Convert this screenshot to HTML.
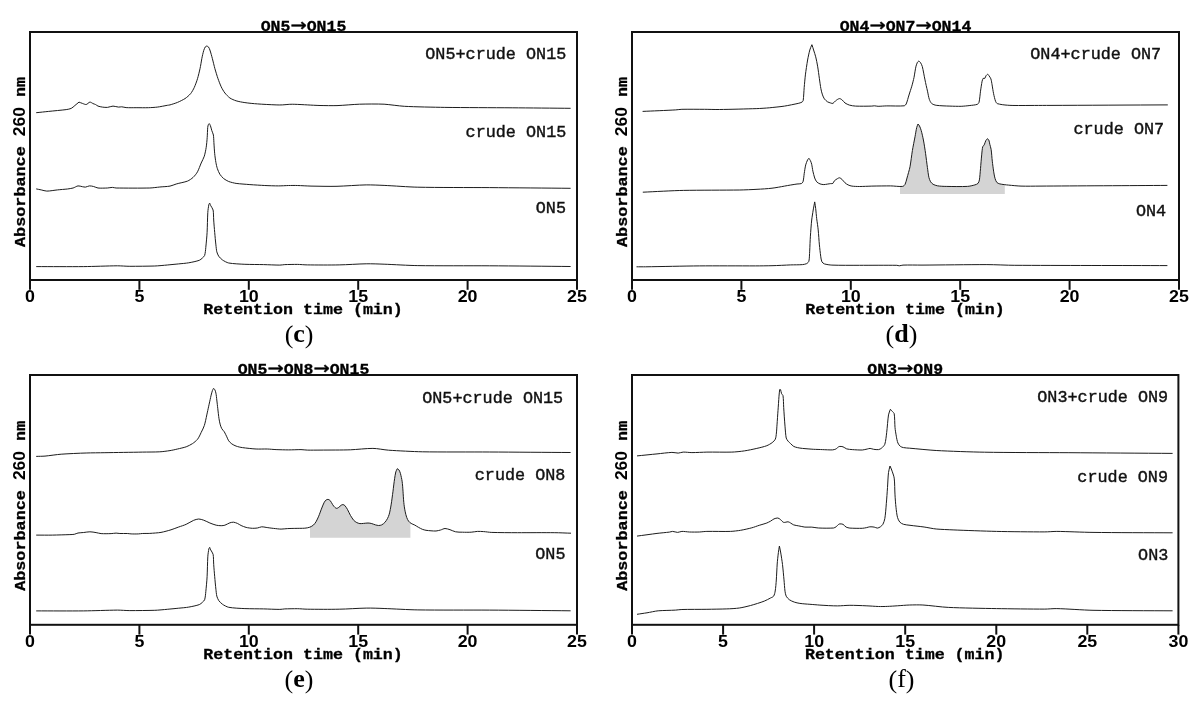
<!DOCTYPE html>
<html lang="en"><head><meta charset="utf-8"><title>Chromatograms</title>
<style>
html,body{margin:0;padding:0;background:#fff}
body{width:1202px;height:708px;overflow:hidden}
svg{display:block}
text{fill:#000}
.tk{font-family:"Liberation Sans","DejaVu Sans",sans-serif;font-weight:bold;font-size:16px}
.ax{font-family:"Liberation Mono","DejaVu Sans Mono",monospace;font-weight:bold;font-size:15px;stroke:#000;stroke-width:.3px}
.ti{font-family:"Liberation Mono","DejaVu Sans Mono",monospace;font-weight:bold;font-size:15px;stroke:#000;stroke-width:.3px}
.ar{font-family:"DejaVu Sans","Liberation Sans",sans-serif;font-weight:normal;font-size:17.7px;stroke-width:.4px}
.lb{font-family:"Liberation Mono","DejaVu Sans Mono",monospace;font-size:16.8px;fill:#111;stroke:#111;stroke-width:.4px}
.trace{fill:none;stroke:#1c1c1c;stroke-width:1px;stroke-linejoin:round}
.shade{fill:#d4d4d4}
.dg{font-family:"Liberation Sans","DejaVu Sans",sans-serif;font-weight:bold;font-size:15.6px;stroke:none}
.cap{font-family:"Liberation Serif","DejaVu Serif",serif;font-size:26px}
</style></head><body>
<svg width="1202" height="708" viewBox="0 0 1202 708">
<rect width="1202" height="708" fill="#fff"/>
<g id="panel-c">
<path class="trace" d="M36.2,112.7C39.5,112.4 45.4,111.7 48.7,111.4C53.4,110.9 61.5,110.2 66.2,109.6C67.6,109.4 70.0,109.0 71.2,108.4C72.3,107.9 73.9,106.3 74.9,105.5C76.0,104.6 77.9,103.0 79.0,102.1C79.9,102.4 81.5,103.1 82.4,103.4C83.4,103.7 85.2,104.7 86.2,104.5C87.4,104.3 88.7,102.3 89.9,102.1C90.8,102.0 92.2,103.2 93.0,103.6C93.7,103.9 94.9,104.2 95.5,104.5C96.2,104.9 97.3,105.8 98.0,106.1C99.1,106.5 101.2,106.9 102.4,107.1C103.7,107.3 106.1,107.5 107.4,107.4C108.9,107.3 111.5,106.1 113.0,106.1C114.5,106.1 117.1,107.0 118.6,107.1C119.4,107.2 120.9,106.7 121.7,106.8C122.9,106.9 124.9,107.5 126.1,107.6C128.8,107.8 133.4,107.7 136.1,107.7C139.4,107.7 145.3,107.8 148.6,107.7C150.9,107.6 155.0,107.4 157.3,107.1C160.0,106.8 164.6,105.8 167.3,105.3C168.0,105.2 169.3,105.1 170.0,104.9C172.0,104.3 175.6,103.2 177.5,102.4C179.6,101.5 183.1,99.8 185.0,98.6C186.7,97.5 189.3,95.2 190.6,93.7C191.8,92.2 193.5,89.2 194.3,87.4C195.3,85.2 196.8,81.1 197.5,78.7C198.3,76.1 199.4,71.4 200.0,68.7C200.6,66.1 201.3,61.4 201.8,58.7C202.2,56.5 203.1,52.7 203.7,50.6C204.0,49.6 204.7,47.8 205.3,46.9C205.6,46.5 206.4,46.2 206.8,46.0C207.2,46.2 208.1,46.5 208.4,46.9C209.0,47.6 209.6,49.1 209.9,50.0C210.7,52.3 211.8,56.4 212.4,58.7C213.1,61.4 214.2,66.1 214.9,68.7C215.7,71.4 217.1,76.1 218.0,78.7C218.8,80.9 220.2,84.7 221.2,86.8C222.0,88.5 223.7,91.5 224.9,93.0C226.1,94.5 228.4,96.9 229.9,98.0C231.4,99.0 234.4,100.3 236.1,100.8C238.4,101.5 242.5,102.3 244.9,102.6C248.2,103.1 254.1,103.7 257.4,103.9C262.4,104.3 271.1,104.7 276.1,104.9C277.8,105.0 280.6,105.0 282.3,104.9C284.3,104.8 287.8,104.4 289.8,104.3C291.1,104.2 293.5,104.3 294.8,104.3C298.1,104.4 304.0,104.7 307.3,104.9C310.7,105.1 316.6,105.4 320.0,105.5C324.5,105.6 332.5,105.7 337.0,105.6C343.0,105.4 353.4,104.4 359.4,104.2C366.0,104.0 377.5,103.9 384.1,104.2C389.5,104.5 398.9,106.0 404.3,106.3C415.1,106.9 434.0,107.2 444.8,107.4C462.8,107.6 494.2,107.7 512.2,107.8C527.8,107.9 555.0,108.2 570.6,108.3"/>
<path class="trace" d="M36.2,188.9C37.5,189.2 39.9,189.6 41.2,189.9C42.7,190.2 45.3,191.1 46.8,191.1C49.7,191.1 54.6,190.2 57.5,189.9C60.1,189.6 64.8,189.3 67.4,189.0C68.9,188.8 71.6,188.4 73.1,188.0C74.5,187.6 76.6,186.1 78.0,185.9C79.2,185.7 81.2,186.5 82.4,186.7C83.2,186.8 84.7,187.2 85.5,187.1C86.6,187.0 88.2,186.0 89.3,185.9C90.5,185.8 92.5,186.2 93.6,186.5C94.8,186.8 96.8,187.9 98.0,188.0C100.5,188.3 104.9,188.1 107.4,188.0C108.7,187.9 111.1,187.4 112.4,187.4C113.4,187.4 115.1,188.0 116.1,188.0C125.1,188.1 140.8,188.2 149.8,188.0C152.5,187.9 157.1,187.3 159.8,187.0C162.5,186.7 167.3,186.6 170.0,186.1C171.7,185.8 174.5,184.5 176.2,184.0C179.2,183.1 184.6,182.2 187.5,181.1C189.2,180.4 191.8,178.6 193.1,177.4C194.5,176.1 196.6,173.5 197.5,171.8C198.7,169.6 200.2,165.3 201.2,163.0C202.0,161.2 203.7,158.1 204.3,156.2C205.0,153.9 205.8,149.8 206.2,147.4C206.6,144.8 207.0,140.1 207.2,137.5C207.4,134.8 207.5,130.2 207.7,127.5C207.8,126.7 208.1,125.2 208.4,124.4C208.5,124.1 209.1,123.9 209.4,123.7C209.7,124.2 210.2,125.1 210.4,125.6C210.9,126.9 211.4,129.3 211.8,130.6C212.2,131.8 213.2,133.8 213.4,135.0C213.7,137.0 213.8,140.5 213.9,142.5C214.1,145.5 214.4,150.7 214.7,153.7C214.9,156.0 215.5,160.1 215.9,162.4C216.2,164.1 216.8,167.1 217.4,168.7C217.9,170.3 219.0,172.9 219.9,174.3C220.7,175.6 222.5,177.6 223.7,178.6C224.9,179.6 227.3,180.9 228.7,181.5C230.6,182.2 234.1,183.1 236.1,183.4C239.8,183.9 246.2,184.3 249.9,184.6C253.9,184.9 260.8,185.3 264.8,185.5C268.5,185.7 274.9,185.9 278.6,185.9C281.3,185.9 285.9,185.6 288.6,185.5C290.9,185.5 295.0,185.4 297.3,185.5C301.0,185.6 307.3,186.0 311.0,186.1C317.9,186.2 330.1,186.5 337.0,186.3C344.8,186.1 358.4,185.0 366.2,184.9C371.0,184.8 379.3,185.2 384.1,185.4C393.1,185.8 408.8,187.0 417.8,187.2C437.0,187.6 470.5,187.5 489.7,187.6C511.3,187.8 549.0,188.1 570.6,188.3"/>
<path class="trace" d="M36.2,266.6C48.9,266.6 71.0,266.7 83.7,266.6C92.7,266.5 108.4,265.9 117.4,265.8C120.7,265.8 126.5,266.3 129.8,266.3C136.5,266.3 148.1,266.2 154.8,266.0C158.1,265.9 164.0,265.3 167.3,265.0C170.3,264.7 175.7,264.2 178.7,263.9C181.4,263.6 186.1,263.3 188.7,262.8C191.6,262.3 196.6,261.3 199.3,260.3C200.3,260.0 201.6,258.7 202.4,258.0C203.1,257.4 204.3,256.3 204.6,255.5C205.3,253.4 205.6,249.6 205.8,247.4C206.2,243.4 206.9,236.4 207.1,232.4C207.4,227.1 207.5,217.8 207.8,212.5C207.9,210.3 208.5,206.5 208.9,204.4C209.0,204.0 209.5,203.4 209.7,203.1C210.0,203.8 210.4,205.0 210.7,205.6C211.3,206.8 212.8,208.7 213.1,210.0C213.6,212.6 213.5,217.3 213.7,220.0C213.9,223.3 214.4,229.1 214.7,232.4C215.0,235.7 215.5,241.6 215.9,244.9C216.1,246.7 216.4,250.0 216.8,251.8C217.1,253.0 218.0,255.1 218.7,256.2C219.5,257.3 221.2,259.1 222.4,259.9C223.9,261.0 226.9,262.6 228.7,263.0C233.0,263.8 240.6,264.1 244.9,264.3C249.9,264.5 258.6,264.5 263.6,264.6C267.9,264.7 275.5,265.1 279.8,265.1C281.1,265.1 283.5,264.7 284.8,264.6C288.1,264.5 294.0,264.4 297.3,264.4C300.0,264.4 304.6,264.9 307.3,264.9C315.8,265.0 330.7,265.1 339.2,264.9C346.4,264.8 359.0,263.9 366.2,263.8C371.0,263.7 379.3,264.0 384.1,264.2C393.1,264.5 408.8,265.5 417.8,265.6C437.0,265.9 470.5,265.7 489.7,265.8C511.3,265.9 549.0,266.3 570.6,266.5"/>
<rect x="30" y="32" width="547" height="248" fill="none" stroke="#111" stroke-width="2"/>
<line x1="30.0" y1="280" x2="30.0" y2="289.8" stroke="#111" stroke-width="2"/>
<text class="tk" transform="translate(30.00,301.80) scale(1.115,1.0)" text-anchor="middle">0</text>
<line x1="139.4" y1="280" x2="139.4" y2="289.8" stroke="#111" stroke-width="2"/>
<text class="tk" transform="translate(139.40,301.80) scale(1.115,1.0)" text-anchor="middle">5</text>
<line x1="248.8" y1="280" x2="248.8" y2="289.8" stroke="#111" stroke-width="2"/>
<text class="tk" transform="translate(248.80,301.80) scale(1.115,1.0)" text-anchor="middle">10</text>
<line x1="358.2" y1="280" x2="358.2" y2="289.8" stroke="#111" stroke-width="2"/>
<text class="tk" transform="translate(358.20,301.80) scale(1.115,1.0)" text-anchor="middle">15</text>
<line x1="467.6" y1="280" x2="467.6" y2="289.8" stroke="#111" stroke-width="2"/>
<text class="tk" transform="translate(467.60,301.80) scale(1.115,1.0)" text-anchor="middle">20</text>
<line x1="577.0" y1="280" x2="577.0" y2="289.8" stroke="#111" stroke-width="2"/>
<text class="tk" transform="translate(577.00,301.80) scale(1.115,1.0)" text-anchor="middle">25</text>
<text class="ti" transform="translate(303.50,31.40) scale(1.1,1.0)" text-anchor="middle">ON5<tspan class="ar">→</tspan>ON15</text>
<text class="ax" transform="translate(303.00,314.40) scale(1.11,1.0)" text-anchor="middle">Retention time (min)</text>
<text class="ax" transform="translate(24.60,161.90) rotate(-90) scale(1.12,1.0)" text-anchor="middle">Absorbance <tspan class="dg">260</tspan> nm</text>
<text class="lb" transform="translate(566.30,58.70)" text-anchor="end">ON5+crude ON15</text>
<text class="lb" transform="translate(566.30,136.80)" text-anchor="end">crude ON15</text>
<text class="lb" transform="translate(566.00,213.00)" text-anchor="end">ON5</text>
<text class="cap" x="299.1" y="342.5" text-anchor="middle">(<tspan font-weight="bold" dy="-0.8">c</tspan><tspan dy="0.8">)</tspan></text>
</g>
<g id="panel-d">
<path class="shade" d="M900.0,186.3C900.7,186.3 902.0,186.7 902.7,186.4C903.5,186.1 904.7,185.1 905.1,184.3C905.9,182.7 906.5,179.7 907.0,178.0C907.8,175.0 909.4,169.8 910.0,166.8C910.8,162.5 911.7,154.8 912.4,150.5C913.0,146.8 914.3,140.5 915.0,136.8C915.5,134.3 916.1,130.0 916.7,127.5C916.9,126.5 917.7,124.9 918.0,124.0C918.4,124.5 919.2,125.4 919.5,126.0C920.1,127.2 920.9,129.3 921.2,130.5C921.9,133.0 922.9,137.4 923.4,140.0C924.1,143.6 925.1,150.0 925.6,153.7C926.1,157.3 926.9,163.8 927.4,167.4C927.8,170.1 928.3,174.8 928.9,177.4C929.2,178.6 929.9,180.7 930.6,181.8C931.1,182.6 932.3,183.8 933.1,184.3C934.1,184.9 936.2,185.6 937.4,185.8C939.7,186.2 943.8,186.4 946.2,186.4C951.9,186.5 961.8,186.7 967.4,186.4C969.4,186.3 972.9,185.5 974.9,184.9C975.8,184.6 977.4,184.1 978.0,183.4C978.7,182.7 979.2,180.9 979.4,179.9C979.9,176.9 980.2,171.7 980.5,168.7C980.8,165.0 981.3,158.6 981.7,154.9C981.9,152.7 982.2,148.9 982.7,146.8C982.9,146.2 983.9,145.5 984.2,144.9C984.7,143.8 985.3,141.7 985.8,140.6C986.1,140.0 986.9,139.2 987.3,138.7C987.7,139.0 988.6,139.5 988.8,140.0C989.3,141.1 989.5,143.2 989.8,144.3C990.1,145.6 990.9,147.9 991.1,149.3C991.6,152.5 991.9,158.0 992.3,161.2C992.6,163.9 993.2,168.5 993.6,171.2C993.9,173.2 994.5,176.7 995.1,178.6C995.4,179.7 996.1,181.6 996.8,182.4C997.4,183.1 998.9,183.7 999.8,183.9C1001.1,184.3 1003.5,184.4 1004.8,184.6 L1004.8,193.9 L900,193.9 Z"/>
<path class="trace" d="M642.6,111.4C651.4,111.0 666.9,110.4 675.7,109.9C677.4,109.8 680.2,109.3 681.9,109.3C687.9,109.2 698.4,109.3 704.4,109.3C708.4,109.3 715.4,109.6 719.4,109.5C729.4,109.4 746.8,108.9 756.8,108.6C760.1,108.5 766.0,108.1 769.3,107.8C773.4,107.4 780.5,106.7 784.5,106.1C788.2,105.5 794.6,104.2 798.2,103.4C799.2,103.2 801.1,102.6 802.0,102.1C802.5,101.8 803.1,101.0 803.2,100.5C803.7,97.0 803.9,90.9 804.2,87.4C804.5,84.1 805.0,78.2 805.4,74.9C805.9,70.9 806.9,64.0 807.6,60.0C808.1,57.3 809.1,52.6 809.8,50.0C810.2,48.5 811.3,46.1 811.9,44.7C812.4,46.1 813.2,48.6 813.6,50.0C814.2,51.8 815.2,55.0 815.7,56.8C816.3,59.3 817.2,63.7 817.6,66.2C818.2,69.5 818.9,75.4 819.4,78.7C819.8,81.4 820.4,86.1 820.9,88.7C821.2,90.4 821.9,93.3 822.5,94.9C822.9,96.0 823.7,97.9 824.4,98.9C825.1,99.8 826.6,101.2 827.5,101.8C828.3,102.3 829.8,102.7 830.7,103.0C831.3,103.2 832.4,103.6 832.9,103.4C833.8,103.0 834.8,101.4 835.6,100.8C836.5,100.1 838.2,98.8 839.4,98.6C840.2,98.5 841.5,99.4 842.1,99.9C843.0,100.6 844.1,102.3 845.0,103.0C846.1,103.8 848.2,104.7 849.4,105.1C851.0,105.6 853.9,106.0 855.6,106.1C859.9,106.3 867.5,106.2 871.8,106.1C872.5,106.1 873.6,105.8 874.3,105.8C875.3,105.8 877.1,106.3 878.1,106.3C880.4,106.3 884.5,105.9 886.8,105.9C891.5,105.8 899.7,106.3 904.3,105.8C905.0,105.7 905.9,104.6 906.2,104.0C907.2,101.7 908.2,97.4 909.0,95.0C909.7,92.7 911.1,88.6 911.8,86.2C912.5,83.9 913.5,79.8 914.0,77.5C914.6,74.5 915.3,69.2 916.0,66.2C916.3,65.1 917.0,63.2 917.5,62.2C917.7,61.8 918.5,61.3 918.8,61.0C919.2,61.3 920.0,61.9 920.3,62.3C921.0,63.3 922.0,65.3 922.3,66.5C923.2,70.0 924.2,76.3 925.0,79.9C925.6,82.9 926.8,88.2 927.5,91.2C928.0,93.4 928.6,97.2 929.3,99.3C929.7,100.6 930.8,102.7 931.8,103.6C932.7,104.4 935.0,105.1 936.2,105.3C939.8,105.8 946.2,106.0 949.9,106.1C952.9,106.2 958.2,106.4 961.2,106.3C963.5,106.2 967.6,105.8 969.9,105.5C971.9,105.3 975.5,105.0 977.4,104.3C978.0,104.1 978.8,103.0 979.0,102.4C979.7,99.5 980.1,94.2 980.5,91.2C980.9,88.5 981.6,83.8 982.1,81.2C982.3,80.4 982.8,79.1 983.1,78.4C983.6,78.4 984.4,78.3 984.9,78.3C985.2,77.6 985.7,76.3 986.1,75.6C986.4,75.1 987.2,74.5 987.6,74.1C987.9,74.5 988.6,75.2 988.9,75.6C989.5,76.4 990.6,77.9 990.9,78.9C991.4,80.4 991.8,83.3 992.1,84.9C992.5,87.2 993.1,91.4 993.6,93.7C994.0,95.7 994.8,99.2 995.5,101.1C995.8,101.9 996.5,103.3 997.3,103.6C999.9,104.5 1004.6,105.0 1007.3,105.2C1010.3,105.5 1015.6,105.5 1018.6,105.5C1027.0,105.5 1041.6,105.4 1050.0,105.4C1081.4,105.3 1136.4,105.0 1167.8,104.9"/>
<path class="trace" d="M642.8,192.2C653.7,191.7 672.8,190.6 683.7,190.4C698.7,190.1 724.8,190.2 739.8,190.0C744.4,189.9 752.4,189.6 757.0,189.3C761.0,189.1 768.0,188.7 772.0,188.2C775.4,187.8 781.2,186.7 784.5,186.1C787.8,185.5 793.7,184.5 797.0,184.0C798.1,183.8 800.2,184.0 801.3,183.6C801.9,183.4 802.8,182.4 803.0,181.8C803.6,179.7 803.9,175.9 804.2,173.7C804.6,171.3 805.1,167.2 805.7,164.9C806.0,163.5 807.0,161.2 807.6,159.9C807.8,159.4 808.6,158.7 808.9,158.3C809.3,158.9 810.1,159.9 810.4,160.6C810.8,161.5 811.5,163.3 811.7,164.3C812.1,166.1 812.5,169.4 812.9,171.2C813.3,173.0 814.1,176.2 814.7,178.0C815.1,179.1 815.9,180.9 816.7,181.8C817.4,182.6 819.0,183.5 820.0,183.9C821.0,184.3 822.8,184.6 823.8,184.6C825.7,184.5 828.9,183.8 830.7,183.6C831.3,183.5 832.4,183.8 832.9,183.4C833.5,182.9 833.8,181.4 834.4,180.8C835.1,180.1 836.6,179.1 837.5,178.6C838.0,178.3 839.0,177.7 839.6,177.8C840.3,177.9 841.4,178.8 841.9,179.3C842.8,180.1 844.1,182.0 845.0,182.8C845.7,183.5 847.2,184.5 848.1,184.9C849.1,185.4 850.8,186.0 851.9,186.1C853.9,186.4 857.4,186.5 859.4,186.5C862.7,186.5 868.5,186.2 871.8,186.1C876.8,186.0 885.6,185.9 890.6,185.9C893.8,185.9 899.5,186.8 902.7,186.4C903.5,186.3 904.7,185.1 905.1,184.3C905.9,182.7 906.5,179.7 907.0,178.0C907.8,175.0 909.4,169.8 910.0,166.8C910.8,162.5 911.7,154.8 912.4,150.5C913.0,146.8 914.3,140.5 915.0,136.8C915.5,134.3 916.1,130.0 916.7,127.5C916.9,126.5 917.7,124.9 918.0,124.0C918.4,124.5 919.2,125.4 919.5,126.0C920.1,127.2 920.9,129.3 921.2,130.5C921.9,133.0 922.9,137.4 923.4,140.0C924.1,143.6 925.1,150.0 925.6,153.7C926.1,157.3 926.9,163.8 927.4,167.4C927.8,170.1 928.3,174.8 928.9,177.4C929.2,178.6 929.9,180.7 930.6,181.8C931.1,182.6 932.3,183.8 933.1,184.3C934.1,184.9 936.2,185.6 937.4,185.8C939.7,186.2 943.8,186.4 946.2,186.4C951.9,186.5 961.8,186.7 967.4,186.4C969.4,186.3 972.9,185.5 974.9,184.9C975.8,184.6 977.4,184.1 978.0,183.4C978.7,182.7 979.2,180.9 979.4,179.9C979.9,176.9 980.2,171.7 980.5,168.7C980.8,165.0 981.3,158.6 981.7,154.9C981.9,152.7 982.2,148.9 982.7,146.8C982.9,146.2 983.9,145.5 984.2,144.9C984.7,143.8 985.3,141.7 985.8,140.6C986.1,140.0 986.9,139.2 987.3,138.7C987.7,139.0 988.6,139.5 988.8,140.0C989.3,141.1 989.5,143.2 989.8,144.3C990.1,145.6 990.9,147.9 991.1,149.3C991.6,152.5 991.9,158.0 992.3,161.2C992.6,163.9 993.2,168.5 993.6,171.2C993.9,173.2 994.5,176.7 995.1,178.6C995.4,179.7 996.1,181.6 996.8,182.4C997.4,183.1 998.9,183.7 999.8,183.9C1002.1,184.4 1006.2,184.9 1008.6,185.1C1011.9,185.4 1017.7,186.0 1021.0,186.1C1026.1,186.3 1034.9,186.1 1040.0,186.1C1074.0,185.9 1133.4,185.6 1167.4,185.4"/>
<path class="trace" d="M636.5,266.8C638.9,266.8 643.1,266.8 645.5,266.8C659.9,266.6 685.0,266.0 699.4,265.9C714.4,265.8 740.5,265.9 755.5,265.9C759.9,265.9 767.6,265.8 772.0,265.7C777.0,265.6 785.7,265.1 790.7,264.9C793.9,264.8 799.4,264.9 802.6,264.6C803.7,264.5 805.7,264.1 806.7,263.6C807.5,263.2 808.7,262.0 808.9,261.1C809.5,258.5 809.5,253.8 809.7,251.2C809.9,247.2 810.1,240.2 810.4,236.2C810.7,231.9 811.2,224.3 811.7,220.0C812.0,217.3 812.8,212.7 813.2,210.0C813.6,207.8 814.3,204.1 814.7,201.9C815.0,203.7 815.5,206.9 815.7,208.7C816.0,211.4 816.4,216.0 816.7,218.7C817.1,221.7 817.9,226.9 818.2,229.9C818.6,233.9 819.0,240.9 819.4,244.9C819.7,247.9 820.3,253.2 820.7,256.2C820.9,257.7 821.2,260.4 821.9,261.8C822.3,262.6 823.6,263.6 824.4,263.9C826.3,264.5 829.9,265.0 831.9,265.1C839.2,265.4 852.1,265.3 859.4,265.3C869.4,265.3 886.8,265.2 896.8,265.3C897.5,265.3 898.6,265.8 899.3,265.8C900.3,265.8 902.0,265.1 903.0,265.1C908.1,264.9 916.9,265.1 922.0,265.1C939.3,265.0 969.6,264.6 986.9,264.6C994.3,264.6 1007.4,265.3 1014.8,265.3C1055.5,265.5 1126.7,265.5 1167.4,265.6"/>
<rect x="632" y="32" width="547" height="248" fill="none" stroke="#111" stroke-width="2"/>
<line x1="632.0" y1="280" x2="632.0" y2="289.8" stroke="#111" stroke-width="2"/>
<text class="tk" transform="translate(632.00,301.80) scale(1.115,1.0)" text-anchor="middle">0</text>
<line x1="741.4" y1="280" x2="741.4" y2="289.8" stroke="#111" stroke-width="2"/>
<text class="tk" transform="translate(741.40,301.80) scale(1.115,1.0)" text-anchor="middle">5</text>
<line x1="850.8" y1="280" x2="850.8" y2="289.8" stroke="#111" stroke-width="2"/>
<text class="tk" transform="translate(850.80,301.80) scale(1.115,1.0)" text-anchor="middle">10</text>
<line x1="960.2" y1="280" x2="960.2" y2="289.8" stroke="#111" stroke-width="2"/>
<text class="tk" transform="translate(960.20,301.80) scale(1.115,1.0)" text-anchor="middle">15</text>
<line x1="1069.6" y1="280" x2="1069.6" y2="289.8" stroke="#111" stroke-width="2"/>
<text class="tk" transform="translate(1069.60,301.80) scale(1.115,1.0)" text-anchor="middle">20</text>
<line x1="1179.0" y1="280" x2="1179.0" y2="289.8" stroke="#111" stroke-width="2"/>
<text class="tk" transform="translate(1179.00,301.80) scale(1.115,1.0)" text-anchor="middle">25</text>
<text class="ti" transform="translate(905.50,31.40) scale(1.1,1.0)" text-anchor="middle">ON4<tspan class="ar">→</tspan>ON7<tspan class="ar">→</tspan>ON14</text>
<text class="ax" transform="translate(905.00,314.40) scale(1.11,1.0)" text-anchor="middle">Retention time (min)</text>
<text class="ax" transform="translate(626.60,161.90) rotate(-90) scale(1.12,1.0)" text-anchor="middle">Absorbance <tspan class="dg">260</tspan> nm</text>
<text class="lb" transform="translate(1161.20,58.70)" text-anchor="end">ON4+crude ON7</text>
<text class="lb" transform="translate(1164.10,133.50)" text-anchor="end">crude ON7</text>
<text class="lb" transform="translate(1166.20,215.90)" text-anchor="end">ON4</text>
<text class="cap" x="901.5" y="342.5" text-anchor="middle">(<tspan font-weight="bold" dy="-0.8">d</tspan><tspan dy="0.8">)</tspan></text>
</g>
<g id="panel-e">
<path class="shade" d="M310.0,527.1C310.9,526.5 312.7,525.7 313.5,525.0C314.3,524.3 315.4,522.7 316.0,521.8C316.8,520.4 318.1,517.7 318.7,516.2C319.6,514.0 320.9,510.2 321.8,508.0C322.4,506.4 323.5,503.7 324.3,502.2C324.7,501.5 325.6,500.4 326.2,499.9C326.6,499.6 327.6,499.3 328.1,499.4C328.7,499.5 329.8,500.1 330.2,500.6C331.0,501.6 332.0,503.6 332.7,504.7C333.2,505.5 334.2,506.8 334.9,507.4C335.3,507.8 336.2,508.4 336.8,508.4C337.4,508.4 338.2,507.7 338.7,507.4C339.4,506.9 340.5,505.7 341.2,505.2C341.6,504.9 342.6,504.5 343.1,504.6C343.6,504.7 344.5,505.2 344.9,505.6C345.7,506.5 346.8,508.3 347.4,509.3C348.3,510.9 349.6,513.9 350.5,515.5C351.3,516.8 352.7,519.1 353.7,520.3C354.4,521.1 355.9,522.1 356.8,522.6C357.6,523.0 359.0,523.5 359.9,523.6C360.9,523.7 362.6,523.5 363.6,523.4C364.8,523.3 366.8,523.0 368.0,523.0C369.0,523.0 370.8,523.3 371.8,523.6C372.8,523.9 374.5,524.6 375.5,524.9C376.3,525.1 377.8,525.5 378.6,525.5C379.4,525.5 380.9,525.3 381.7,524.9C382.7,524.4 384.2,523.2 384.9,522.4C385.7,521.5 386.8,519.8 387.4,518.7C388.0,517.6 388.9,515.5 389.2,514.3C389.9,511.8 390.7,507.4 391.1,504.9C391.7,501.3 392.5,494.9 393.0,491.2C393.4,487.9 394.1,482.0 394.6,478.7C394.9,476.9 395.3,473.7 395.8,471.9C396.0,471.0 396.9,469.6 397.3,468.7C397.8,469.0 398.7,469.5 399.0,470.0C399.6,470.9 400.2,472.7 400.5,473.7C401.0,475.7 401.8,479.2 402.1,481.2C402.5,483.9 402.8,488.5 403.0,491.2C403.2,494.2 403.5,499.4 403.8,502.4C404.0,504.8 404.6,508.9 405.1,511.2C405.4,512.9 406.1,515.8 406.7,517.4C407.1,518.5 408.0,520.3 408.6,521.2C409.0,521.7 409.9,522.4 410.4,522.8 L410.4,537.7 L310.0,537.7 Z"/>
<path class="trace" d="M36.2,456.4C38.5,456.3 42.7,456.3 45.0,456.1C49.3,455.7 56.9,454.5 61.2,454.2C67.9,453.7 79.5,453.2 86.2,453.0C91.2,452.8 99.9,452.8 104.9,452.7C114.9,452.5 132.3,452.3 142.3,452.1C147.0,452.0 155.1,452.1 159.8,451.8C162.5,451.7 167.3,451.0 170.0,450.6C172.0,450.3 175.5,449.5 177.5,449.0C179.8,448.5 183.9,447.6 186.2,446.8C188.0,446.2 190.9,444.6 192.5,443.6C194.0,442.6 196.4,440.7 197.5,439.3C198.8,437.7 200.3,434.3 201.2,432.4C202.1,430.6 203.7,427.5 204.3,425.6C205.2,422.8 206.2,417.8 206.8,414.9C207.3,412.6 208.2,408.5 208.7,406.2C209.2,403.9 210.1,399.8 210.6,397.5C211.0,395.6 211.8,392.4 212.4,390.6C212.6,390.0 213.1,389.1 213.4,388.5C213.7,388.7 214.5,389.0 214.7,389.4C215.2,390.3 215.7,392.1 215.9,393.1C216.3,394.9 216.6,398.2 216.8,400.0C217.1,402.3 217.5,406.4 217.8,408.7C218.1,411.4 218.6,416.0 219.0,418.7C219.3,420.4 219.8,423.3 220.3,424.9C220.6,425.9 221.3,427.8 221.8,428.7C222.3,429.6 223.7,430.9 224.3,431.8C225.1,433.1 226.1,435.5 226.8,436.8C227.3,437.9 228.0,439.8 228.7,440.8C229.4,441.8 230.8,443.2 231.8,443.9C232.8,444.6 234.9,445.7 236.1,446.1C237.7,446.7 240.7,447.4 242.4,447.6C246.0,448.1 252.4,448.8 256.1,449.0C259.1,449.2 264.3,448.9 267.3,449.0C269.7,449.1 273.7,449.5 276.1,449.6C279.4,449.7 285.3,449.9 288.6,449.9C291.9,449.9 297.7,449.6 301.0,449.6C302.7,449.6 305.6,450.1 307.3,450.1C310.7,450.2 316.6,450.1 320.0,450.1C328.1,450.0 342.3,450.1 350.4,449.8C356.4,449.6 366.9,448.3 372.9,448.4C377.1,448.4 384.4,449.9 388.6,450.2C397.6,450.8 413.3,451.6 422.3,451.8C440.3,452.1 471.7,451.9 489.7,452.0C511.3,452.1 549.0,452.4 570.6,452.5"/>
<path class="trace" d="M36.2,535.1C40.5,535.1 48.2,535.2 52.5,535.1C57.1,535.0 65.3,534.8 69.9,534.6C71.1,534.6 73.1,534.5 74.3,534.3C75.3,534.1 77.0,533.2 78.0,533.0C79.5,532.7 82.2,532.7 83.7,532.5C85.4,532.3 88.2,531.8 89.9,531.8C91.6,531.8 94.5,532.3 96.1,532.6C97.4,532.8 99.7,533.5 101.1,533.6C103.8,533.8 108.4,533.7 111.1,533.6C112.4,533.6 114.8,533.1 116.1,533.1C117.1,533.1 118.9,533.5 119.9,533.5C121.9,533.6 125.3,533.4 127.3,533.5C128.3,533.5 130.1,533.9 131.1,533.9C133.1,534.0 136.6,534.0 138.6,533.9C139.6,533.9 141.3,533.5 142.3,533.5C144.3,533.4 147.8,533.5 149.8,533.4C152.8,533.2 158.0,532.9 161.0,532.4C163.7,531.9 168.4,530.6 171.0,529.8C173.1,529.2 176.6,527.7 178.7,527.0C180.7,526.3 184.3,525.2 186.2,524.3C188.3,523.4 191.6,521.2 193.7,520.3C195.0,519.8 197.3,519.0 198.7,519.0C200.1,519.0 202.4,519.7 203.7,520.2C205.4,520.8 208.2,522.3 209.9,523.0C211.6,523.7 214.5,524.8 216.2,525.2C217.5,525.5 219.9,525.7 221.2,525.7C222.2,525.7 224.0,525.5 224.9,525.2C226.3,524.7 228.5,523.3 229.9,522.8C230.8,522.5 232.6,522.1 233.6,522.2C234.7,522.3 236.4,523.0 237.4,523.4C238.4,523.9 240.1,525.0 241.1,525.5C242.4,526.1 244.7,527.1 246.1,527.4C247.7,527.8 250.7,528.2 252.4,528.3C253.7,528.4 256.1,528.2 257.4,528.0C258.6,527.8 260.5,526.9 261.7,526.8C262.9,526.7 264.9,527.2 266.1,527.4C268.1,527.7 271.6,528.2 273.6,528.4C275.6,528.6 279.1,529.1 281.1,529.1C282.8,529.1 285.6,528.7 287.3,528.6C289.3,528.5 292.8,528.4 294.8,528.4C297.5,528.3 302.1,528.4 304.8,528.2C306.2,528.1 308.5,527.7 309.8,527.2C310.9,526.8 312.6,525.8 313.5,525.0C314.3,524.3 315.4,522.7 316.0,521.8C316.8,520.4 318.1,517.7 318.7,516.2C319.6,514.0 320.9,510.2 321.8,508.0C322.4,506.4 323.5,503.7 324.3,502.2C324.7,501.5 325.6,500.4 326.2,499.9C326.6,499.6 327.6,499.3 328.1,499.4C328.7,499.5 329.8,500.1 330.2,500.6C331.0,501.6 332.0,503.6 332.7,504.7C333.2,505.5 334.2,506.8 334.9,507.4C335.3,507.8 336.2,508.4 336.8,508.4C337.4,508.4 338.2,507.7 338.7,507.4C339.4,506.9 340.5,505.7 341.2,505.2C341.6,504.9 342.6,504.5 343.1,504.6C343.6,504.7 344.5,505.2 344.9,505.6C345.7,506.5 346.8,508.3 347.4,509.3C348.3,510.9 349.6,513.9 350.5,515.5C351.3,516.8 352.7,519.1 353.7,520.3C354.4,521.1 355.9,522.1 356.8,522.6C357.6,523.0 359.0,523.5 359.9,523.6C360.9,523.7 362.6,523.5 363.6,523.4C364.8,523.3 366.8,523.0 368.0,523.0C369.0,523.0 370.8,523.3 371.8,523.6C372.8,523.9 374.5,524.6 375.5,524.9C376.3,525.1 377.8,525.5 378.6,525.5C379.4,525.5 380.9,525.3 381.7,524.9C382.7,524.4 384.2,523.2 384.9,522.4C385.7,521.5 386.8,519.8 387.4,518.7C388.0,517.6 388.9,515.5 389.2,514.3C389.9,511.8 390.7,507.4 391.1,504.9C391.7,501.3 392.5,494.9 393.0,491.2C393.4,487.9 394.1,482.0 394.6,478.7C394.9,476.9 395.3,473.7 395.8,471.9C396.0,471.0 396.9,469.6 397.3,468.7C397.8,469.0 398.7,469.5 399.0,470.0C399.6,470.9 400.2,472.7 400.5,473.7C401.0,475.7 401.8,479.2 402.1,481.2C402.5,483.9 402.8,488.5 403.0,491.2C403.2,494.2 403.5,499.4 403.8,502.4C404.0,504.8 404.6,508.9 405.1,511.2C405.4,512.9 406.1,515.8 406.7,517.4C407.1,518.5 407.9,520.3 408.6,521.2C409.1,521.9 410.3,522.9 411.1,523.4C412.0,524.0 413.8,524.6 414.8,525.1C415.8,525.7 417.6,526.8 418.6,527.4C419.6,527.9 421.3,528.9 422.3,529.3C423.3,529.7 425.0,530.1 426.0,530.3C427.3,530.5 429.7,530.7 431.0,530.8C432.3,530.9 434.7,531.1 436.0,531.0C437.3,530.9 439.4,530.3 440.6,530.0C441.8,529.7 443.8,528.5 445.0,528.5C446.4,528.5 448.7,529.3 450.0,529.7C451.5,530.2 454.0,531.5 455.6,531.8C457.4,532.2 460.6,532.2 462.4,532.2C464.7,532.3 468.9,532.3 471.2,532.2C472.9,532.1 475.7,531.5 477.4,531.4C479.1,531.3 482.0,531.5 483.7,531.6C485.7,531.7 489.2,532.3 491.2,532.4C498.2,532.6 510.4,532.7 517.4,532.7C527.4,532.7 544.8,532.6 554.8,532.7C559.1,532.7 566.7,533.1 571.0,533.2"/>
<path class="trace" d="M36.2,610.9C48.9,610.9 71.0,611.0 83.7,610.9C92.7,610.8 108.4,610.2 117.4,610.1C120.7,610.1 126.5,610.6 129.8,610.6C136.5,610.6 148.1,610.5 154.8,610.3C158.1,610.2 164.0,609.6 167.3,609.3C170.3,609.0 175.7,608.5 178.7,608.2C181.4,607.9 186.1,607.6 188.7,607.1C191.6,606.6 196.6,605.6 199.3,604.6C200.3,604.3 201.6,603.0 202.4,602.3C203.1,601.7 204.3,600.6 204.6,599.8C205.3,597.7 205.6,593.9 205.8,591.7C206.2,587.7 206.9,580.7 207.1,576.7C207.4,571.4 207.5,562.1 207.8,556.8C207.9,554.6 208.5,550.8 208.9,548.7C209.0,548.3 209.5,547.7 209.7,547.4C210.0,548.1 210.4,549.3 210.7,549.9C211.3,551.1 212.8,553.0 213.1,554.3C213.6,556.9 213.5,561.6 213.7,564.3C213.9,567.6 214.4,573.4 214.7,576.7C215.0,580.0 215.5,585.9 215.9,589.2C216.1,591.0 216.4,594.3 216.8,596.1C217.1,597.3 218.0,599.4 218.7,600.5C219.5,601.6 221.2,603.4 222.4,604.2C223.9,605.3 226.9,606.9 228.7,607.3C233.0,608.1 240.6,608.4 244.9,608.6C249.9,608.8 258.6,608.8 263.6,608.9C267.9,609.0 275.5,609.4 279.8,609.4C281.1,609.4 283.5,609.0 284.8,608.9C288.1,608.8 294.0,608.7 297.3,608.7C300.0,608.7 304.6,609.2 307.3,609.2C315.8,609.3 330.7,609.4 339.2,609.2C346.4,609.1 359.0,608.2 366.2,608.1C371.0,608.0 379.3,608.3 384.1,608.5C393.1,608.8 408.8,609.8 417.8,609.9C437.0,610.2 470.5,610.0 489.7,610.1C511.3,610.2 549.0,610.6 570.6,610.8"/>
<rect x="30" y="375" width="547" height="249.79999999999995" fill="none" stroke="#111" stroke-width="2"/>
<line x1="30.0" y1="624.8" x2="30.0" y2="634.6" stroke="#111" stroke-width="2"/>
<text class="tk" transform="translate(30.00,646.60) scale(1.115,1.0)" text-anchor="middle">0</text>
<line x1="139.4" y1="624.8" x2="139.4" y2="634.6" stroke="#111" stroke-width="2"/>
<text class="tk" transform="translate(139.40,646.60) scale(1.115,1.0)" text-anchor="middle">5</text>
<line x1="248.8" y1="624.8" x2="248.8" y2="634.6" stroke="#111" stroke-width="2"/>
<text class="tk" transform="translate(248.80,646.60) scale(1.115,1.0)" text-anchor="middle">10</text>
<line x1="358.2" y1="624.8" x2="358.2" y2="634.6" stroke="#111" stroke-width="2"/>
<text class="tk" transform="translate(358.20,646.60) scale(1.115,1.0)" text-anchor="middle">15</text>
<line x1="467.6" y1="624.8" x2="467.6" y2="634.6" stroke="#111" stroke-width="2"/>
<text class="tk" transform="translate(467.60,646.60) scale(1.115,1.0)" text-anchor="middle">20</text>
<line x1="577.0" y1="624.8" x2="577.0" y2="634.6" stroke="#111" stroke-width="2"/>
<text class="tk" transform="translate(577.00,646.60) scale(1.115,1.0)" text-anchor="middle">25</text>
<text class="ti" transform="translate(303.50,374.40) scale(1.1,1.0)" text-anchor="middle">ON5<tspan class="ar">→</tspan>ON8<tspan class="ar">→</tspan>ON15</text>
<text class="ax" transform="translate(303.00,659.20) scale(1.11,1.0)" text-anchor="middle">Retention time (min)</text>
<text class="ax" transform="translate(24.60,505.80) rotate(-90) scale(1.12,1.0)" text-anchor="middle">Absorbance <tspan class="dg">260</tspan> nm</text>
<text class="lb" transform="translate(563.20,402.90)" text-anchor="end">ON5+crude ON15</text>
<text class="lb" transform="translate(565.40,480.30)" text-anchor="end">crude ON8</text>
<text class="lb" transform="translate(565.50,559.00)" text-anchor="end">ON5</text>
<text class="cap" x="299.0" y="688.2" text-anchor="middle">(<tspan font-weight="bold" dy="-0.8">e</tspan><tspan dy="0.8">)</tspan></text>
</g>
<g id="panel-f">
<path class="trace" d="M637.0,455.9C642.3,455.4 651.7,454.4 657.0,453.9C661.0,453.5 667.9,452.6 671.9,452.4C673.6,452.3 676.5,453.1 678.2,453.1C679.6,453.1 681.8,452.1 683.2,452.1C685.5,452.0 689.6,452.6 691.9,452.6C695.9,452.6 702.9,452.2 706.9,452.1C713.5,452.0 725.2,452.3 731.8,452.1C735.1,452.0 741.0,451.4 744.3,450.9C747.7,450.4 753.5,449.2 756.8,448.4C759.5,447.8 764.2,446.7 766.8,445.7C768.4,445.1 770.9,443.6 772.2,442.6C773.2,441.9 774.8,440.3 775.3,439.2C776.0,437.7 776.2,434.7 776.4,433.0C776.7,430.8 776.8,427.1 777.0,424.9C777.3,421.1 777.7,414.3 778.0,410.5C778.3,406.7 778.7,400.0 779.0,396.2C779.1,394.4 779.5,391.3 779.7,389.5C779.9,389.6 780.4,389.6 780.6,389.7C780.9,390.8 781.2,392.7 781.6,393.7C781.8,394.3 782.9,395.0 783.0,395.6C783.5,398.7 783.5,404.3 783.7,407.5C784.0,412.5 784.6,421.2 785.0,426.2C785.3,429.4 785.6,434.9 786.2,438.0C786.4,439.0 787.5,440.4 788.1,441.2C788.7,441.9 789.9,443.0 790.6,443.6C791.4,444.4 792.7,445.8 793.7,446.4C794.6,446.9 796.4,447.4 797.4,447.6C798.7,447.9 801.1,448.3 802.4,448.4C805.4,448.7 810.7,449.1 813.7,449.3C816.0,449.4 820.1,449.5 822.4,449.6C825.1,449.7 829.7,450.0 832.4,449.9C833.4,449.9 835.0,449.4 835.9,449.0C836.9,448.5 838.1,446.8 839.2,446.5C840.2,446.2 842.0,446.5 843.0,446.8C844.1,447.1 845.6,448.6 846.7,448.9C848.1,449.3 850.8,449.5 852.3,449.6C855.0,449.8 859.6,450.1 862.3,450.0C863.7,449.9 866.0,449.3 867.3,449.0C868.0,448.8 869.3,448.4 870.1,448.4C871.1,448.4 872.6,449.2 873.6,449.3C874.9,449.5 877.3,449.8 878.6,449.6C879.5,449.5 881.0,448.6 881.7,448.0C882.7,447.2 884.4,445.5 884.8,444.3C885.8,441.2 886.3,435.6 886.7,432.4C887.3,427.7 887.8,419.5 888.5,414.9C888.7,413.3 889.9,410.8 890.4,409.3C890.9,409.9 891.8,410.8 892.3,411.4C892.8,412.0 894.1,412.9 894.2,413.7C894.8,417.3 894.7,423.8 895.0,427.4C895.2,429.8 895.9,433.9 896.3,436.2C896.6,438.0 897.2,441.3 897.9,443.0C898.3,444.0 899.5,445.7 900.4,446.4C901.1,447.0 902.6,447.4 903.5,447.6C905.1,447.9 908.0,448.1 909.7,448.2C916.8,448.8 929.1,450.1 936.2,450.5C949.0,451.2 971.5,452.0 984.4,452.2C1006.9,452.6 1046.4,452.6 1068.9,452.7C1096.6,452.9 1144.9,453.2 1172.6,453.4"/>
<path class="trace" d="M637.0,536.1C642.3,535.4 651.7,534.1 657.0,533.4C660.3,533.0 666.1,532.5 669.4,532.1C670.3,532.0 671.7,531.4 672.6,531.4C674.0,531.4 676.2,532.4 677.6,532.4C678.8,532.4 680.7,531.4 681.9,531.4C683.9,531.3 687.4,531.9 689.4,532.0C692.1,532.1 696.7,532.1 699.4,532.0C701.4,531.9 704.9,531.4 706.9,531.4C713.2,531.3 724.3,531.6 730.6,531.4C733.3,531.3 738.0,530.7 740.6,530.3C743.6,529.8 748.8,528.6 751.8,527.8C753.8,527.3 757.3,525.9 759.3,525.3C761.3,524.7 764.8,523.7 766.8,523.0C767.8,522.6 769.5,521.7 770.5,521.2C771.5,520.6 773.0,519.3 774.0,518.9C775.0,518.5 776.8,517.9 777.8,518.0C778.6,518.1 779.8,519.0 780.4,519.5C781.3,520.2 782.6,522.1 783.7,522.4C784.8,522.7 786.9,521.7 788.1,521.8C788.8,521.9 790.0,522.6 790.6,523.0C791.4,523.5 792.8,524.6 793.7,524.9C795.0,525.4 797.4,525.6 798.7,525.9C800.4,526.2 803.2,526.9 804.9,527.1C806.6,527.3 809.5,527.0 811.2,527.1C813.2,527.2 816.7,527.9 818.7,528.0C822.7,528.2 829.6,528.3 833.6,528.0C834.3,527.9 835.5,527.2 836.1,526.8C837.0,526.2 838.2,524.4 839.2,524.0C840.2,523.7 842.1,523.9 843.0,524.3C844.0,524.8 845.1,526.6 846.1,527.1C847.0,527.6 848.9,528.0 849.9,528.1C853.2,528.3 859.0,528.4 862.3,528.3C863.5,528.3 865.5,527.8 866.7,527.6C867.5,527.4 868.9,526.9 869.8,526.8C871.0,526.7 873.0,526.9 874.2,527.1C875.1,527.2 876.4,528.1 877.3,528.1C878.2,528.1 879.7,527.3 880.4,526.8C881.2,526.3 882.4,525.1 882.9,524.3C883.7,522.9 884.5,520.3 884.8,518.7C885.5,514.7 886.0,507.7 886.3,503.7C886.7,499.4 887.2,491.8 887.5,487.5C887.8,483.5 888.0,476.5 888.5,472.5C888.7,470.7 889.6,467.7 890.0,466.0C890.5,467.1 891.3,468.9 891.7,470.0C892.4,472.1 893.9,475.9 894.2,478.1C894.8,482.5 894.7,490.4 895.0,494.9C895.2,498.2 895.6,504.1 896.0,507.4C896.3,510.1 896.8,514.8 897.5,517.4C897.8,518.8 898.9,521.0 899.8,522.1C900.6,523.0 902.4,524.0 903.5,524.3C905.2,524.8 908.3,525.1 910.0,525.3C913.8,525.8 920.3,526.5 924.1,527.0C927.3,527.5 932.9,528.7 936.2,529.0C940.7,529.4 948.6,529.7 953.1,529.9C964.7,530.4 984.9,531.1 996.5,531.4C1009.4,531.7 1031.9,531.9 1044.8,531.9C1048.0,531.9 1053.6,531.4 1056.8,531.4C1066.5,531.5 1083.3,532.3 1093.0,532.4C1114.2,532.7 1151.4,532.7 1172.6,532.8"/>
<path class="trace" d="M637.0,614.3C639.7,613.9 644.3,613.2 647.0,612.8C650.0,612.3 655.2,611.1 658.2,610.8C662.8,610.4 671.0,610.4 675.7,610.1C677.4,610.0 680.2,609.5 681.9,609.5C688.6,609.3 700.2,609.4 706.9,609.3C712.2,609.2 721.5,609.1 726.8,608.9C730.1,608.8 736.0,608.5 739.3,608.0C742.4,607.6 747.6,606.3 750.6,605.5C754.3,604.5 760.7,602.5 764.3,601.1C766.0,600.4 768.9,598.9 770.5,598.0C771.3,597.6 773.1,597.0 773.6,596.2C774.4,595.0 775.0,592.4 775.2,591.0C775.7,588.1 776.1,582.9 776.3,580.0C776.6,575.7 776.9,568.3 777.2,564.0C777.4,560.9 778.0,555.6 778.4,552.5C778.6,550.8 779.1,547.7 779.4,546.0C779.7,547.6 780.3,550.4 780.6,552.0C781.2,555.3 782.1,561.2 782.5,564.5C783.0,568.6 783.6,575.8 784.0,579.9C784.3,582.9 784.6,588.2 785.0,591.2C785.2,592.6 785.6,595.0 786.2,596.2C786.8,597.3 788.3,599.0 789.3,599.7C790.5,600.6 792.9,601.6 794.3,602.1C795.7,602.6 798.4,603.2 799.9,603.4C802.6,603.8 807.2,604.1 809.9,604.3C812.6,604.5 817.2,604.9 819.9,605.1C824.6,605.4 832.7,605.9 837.4,605.9C840.7,605.9 846.6,605.3 849.9,605.3C854.2,605.3 861.8,605.6 866.1,605.8C869.4,605.9 875.3,606.4 878.6,606.5C880.9,606.6 885.0,606.5 887.3,606.4C890.0,606.3 894.6,606.0 897.3,605.8C900.6,605.6 906.4,605.1 909.7,605.0C913.2,604.9 919.4,604.8 922.9,605.0C929.7,605.4 941.5,607.1 948.3,607.4C961.1,608.0 983.6,608.4 996.5,608.6C1009.4,608.8 1031.9,609.1 1044.8,609.1C1048.0,609.1 1053.6,608.5 1056.8,608.6C1066.5,608.8 1083.3,610.1 1093.0,610.3C1114.2,610.7 1151.4,610.7 1172.6,610.8"/>
<rect x="632" y="375" width="546.4000000000001" height="249.79999999999995" fill="none" stroke="#111" stroke-width="2"/>
<line x1="632.0" y1="624.8" x2="632.0" y2="634.6" stroke="#111" stroke-width="2"/>
<text class="tk" transform="translate(632.00,646.60) scale(1.115,1.0)" text-anchor="middle">0</text>
<line x1="723.1" y1="624.8" x2="723.1" y2="634.6" stroke="#111" stroke-width="2"/>
<text class="tk" transform="translate(723.07,646.60) scale(1.115,1.0)" text-anchor="middle">5</text>
<line x1="814.1" y1="624.8" x2="814.1" y2="634.6" stroke="#111" stroke-width="2"/>
<text class="tk" transform="translate(814.13,646.60) scale(1.115,1.0)" text-anchor="middle">10</text>
<line x1="905.2" y1="624.8" x2="905.2" y2="634.6" stroke="#111" stroke-width="2"/>
<text class="tk" transform="translate(905.20,646.60) scale(1.115,1.0)" text-anchor="middle">15</text>
<line x1="996.3" y1="624.8" x2="996.3" y2="634.6" stroke="#111" stroke-width="2"/>
<text class="tk" transform="translate(996.27,646.60) scale(1.115,1.0)" text-anchor="middle">20</text>
<line x1="1087.3" y1="624.8" x2="1087.3" y2="634.6" stroke="#111" stroke-width="2"/>
<text class="tk" transform="translate(1087.33,646.60) scale(1.115,1.0)" text-anchor="middle">25</text>
<line x1="1178.4" y1="624.8" x2="1178.4" y2="634.6" stroke="#111" stroke-width="2"/>
<text class="tk" transform="translate(1178.40,646.60) scale(1.115,1.0)" text-anchor="middle">30</text>
<text class="ti" transform="translate(905.20,374.40) scale(1.1,1.0)" text-anchor="middle">ON3<tspan class="ar">→</tspan>ON9</text>
<text class="ax" transform="translate(904.70,659.20) scale(1.11,1.0)" text-anchor="middle">Retention time (min)</text>
<text class="ax" transform="translate(626.60,505.80) rotate(-90) scale(1.12,1.0)" text-anchor="middle">Absorbance <tspan class="dg">260</tspan> nm</text>
<text class="lb" transform="translate(1168.20,401.60)" text-anchor="end">ON3+crude ON9</text>
<text class="lb" transform="translate(1168.00,481.50)" text-anchor="end">crude ON9</text>
<text class="lb" transform="translate(1168.30,559.60)" text-anchor="end">ON3</text>
<text class="cap" x="901.5" y="688.2" text-anchor="middle">(<tspan font-weight="normal" dy="-0.8">f</tspan><tspan dy="0.8">)</tspan></text>
</g>
</svg>
</body></html>
